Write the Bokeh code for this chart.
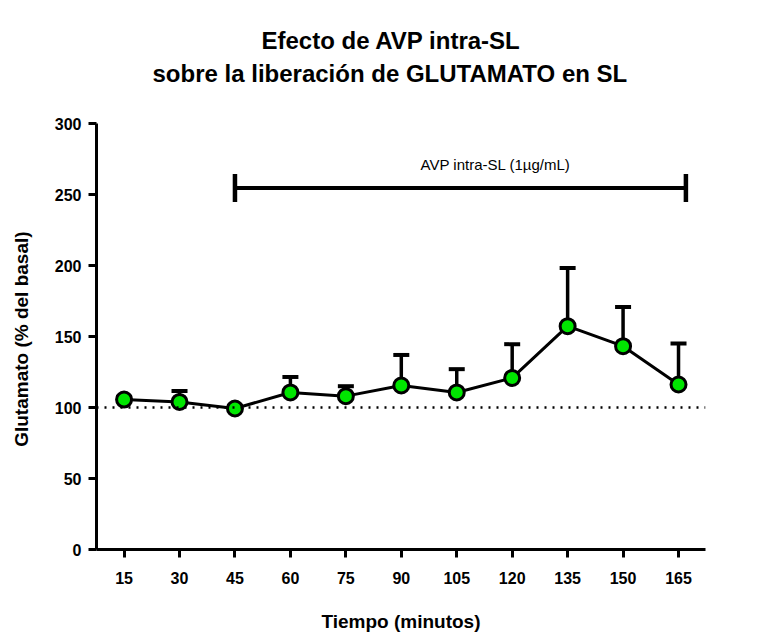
from bokeh.plotting import figure
from bokeh.models import Label, FixedTicker, Range1d, Span, Title
from bokeh.embed import file_html
from bokeh.resources import INLINE

# ---- data ----
tiempo = [15, 30, 45, 60, 75, 90, 105, 120, 135, 150, 165]
glutamato = [105.6, 103.9, 99.3, 110.6, 108.0, 115.5, 110.6, 120.8, 157.3, 143.2, 116.2]
sem = [2.0, 7.8, 2.0, 10.9, 7.0, 21.5, 16.4, 23.8, 41.0, 27.6, 28.9]
y_ticks = [0, 50, 100, 150, 200, 250, 300]
basal = 100
avp_inicio = 45
avp_fin = 167
avp_nivel = 254.6
avp_texto = "AVP intra-SL (1µg/mL)"
titulo1 = "Efecto de AVP intra-SL"
titulo2 = "sobre la liberación de GLUTAMATO en SL"

FONT = "Liberation Sans"

p = figure(width=778, height=634, output_backend="svg", toolbar_location=None,
           x_range=Range1d(7.54, 172.3), y_range=Range1d(0, 300),
           min_border_left=96, min_border_right=73, min_border_top=123,
           min_border_bottom=85, title=None)
p.background_fill_color = "white"
p.border_fill_color = "white"
p.outline_line_color = None
p.xgrid.visible = False
p.ygrid.visible = False

# axes (bottom and left only)
x_axis = p.below[0]
y_axis = p.left[0]
for ax in (x_axis, y_axis):
    ax.axis_line_width = 3
    ax.axis_line_color = "black"
    ax.major_tick_line_width = 3
    ax.major_tick_line_color = "black"
    ax.major_tick_out = 8
    ax.major_tick_in = 0
    ax.minor_tick_line_color = None
    ax.major_label_text_font = FONT
    ax.major_label_text_font_style = "bold"
    ax.major_label_text_font_size = "16px"
    ax.major_label_text_color = "black"
    ax.axis_label_text_font = FONT
    ax.axis_label_text_font_style = "bold"
    ax.axis_label_text_font_size = "19px"
    ax.axis_label_text_color = "black"

x_axis.ticker = FixedTicker(ticks=tiempo)
y_axis.ticker = FixedTicker(ticks=y_ticks)
x_axis.axis_label = "Tiempo (minutos)"
y_axis.axis_label = "Glutamato  (% del basal)"
x_axis.major_label_standoff = 14
x_axis.axis_label_standoff = 24
y_axis.major_label_standoff = 7
y_axis.axis_label_standoff = 20

# baseline
p.add_layout(Span(location=basal, dimension="width", line_color="black",
                  line_width=2.5, line_dash="2 6"))

# error bars (upper only)
tops = [m + s for m, s in zip(glutamato, sem)]
p.segment(x0=tiempo, y0=glutamato, x1=tiempo, y1=tops, line_color="black", line_width=3.5)
p.scatter(x=tiempo, y=tops, marker="dash", size=16, line_color="black", line_width=4)

# mean line + markers
p.line(tiempo, glutamato, line_color="black", line_width=3)
p.scatter(tiempo, glutamato, size=15, fill_color="#00e600", line_color="black", line_width=3)

# treatment bar
p.segment(x0=[avp_inicio], y0=[avp_nivel], x1=[avp_fin], y1=[avp_nivel],
          line_color="black", line_width=4)
p.scatter(x=[avp_inicio, avp_fin], y=[avp_nivel, avp_nivel], marker="dash",
          angle=90, angle_units="deg", size=28, line_color="black", line_width=4.5)
p.add_layout(Label(x=115.5, y=271.3, text=avp_texto, text_align="center",
                   text_baseline="middle", text_font=FONT, text_font_size="15px",
                   text_color="black"))

# white spacer between the frame and the titles
p.add_layout(Title(text=" ", text_font_size="2px", text_color="white",
                   standoff=33), "above")

# titles (later added = further from the plot)
p.add_layout(Title(text=titulo2, align="left", offset=56, standoff=0,
                   text_font=FONT, text_font_size="24px", text_font_style="bold",
                   text_color="black"), "above")
p.add_layout(Title(text=titulo1, align="left", offset=165, standoff=8,
                   text_font=FONT, text_font_size="24px", text_font_style="bold",
                   text_color="black"), "above")

open("out.html", "w").write(file_html(p, INLINE))
